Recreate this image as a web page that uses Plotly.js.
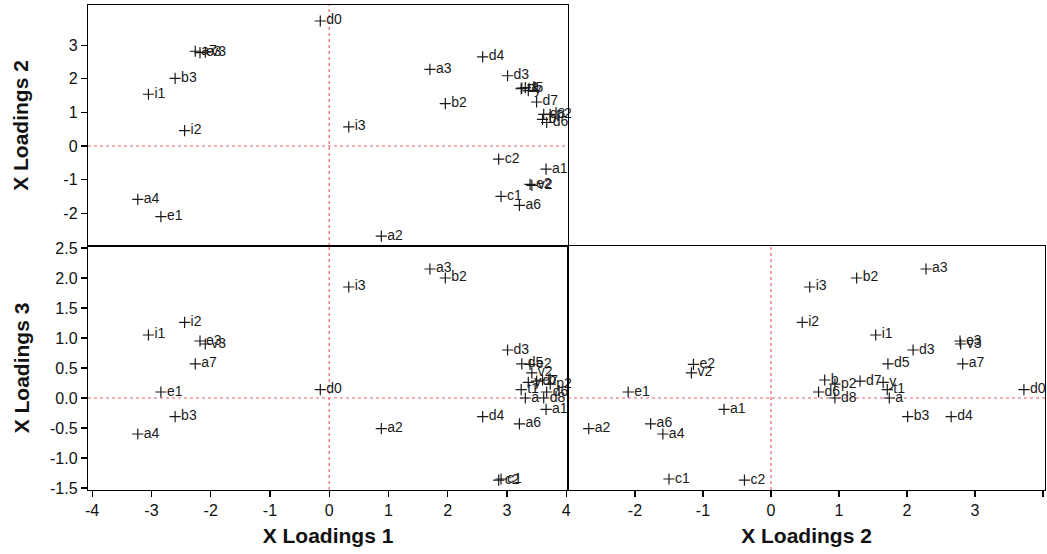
<!DOCTYPE html>
<html>
<head>
<meta charset="utf-8">
<script src="https://cdn.plot.ly/plotly-3.0.1.min.js"></script>
<style>
  html, body { margin: 0; padding: 0; background: #ffffff; }
  #chart { width: 1047px; height: 554px; }
</style>
</head>
<body>
<div id="chart"></div>
<script>
// Variable names and their loadings on the three factors
const variables = ["d0", "a7", "e3", "v3", "b3", "i1", "i2", "a4", "e1", "i3",
                   "a2", "c2", "a1", "e2", "v2", "c1", "a6", "a3", "d4", "d3",
                   "b2", "d7", "d5", "y", "t1", "a", "b", "p2", "d6", "d8"];
const loading1 = [-0.15, -2.26, -2.18, -2.09, -2.60, -3.05, -2.44, -3.23, -2.84, 0.33,
                  0.88, 2.86, 3.66, 3.39, 3.42, 2.90, 3.21, 1.70, 2.59, 3.01,
                  1.96, 3.50, 3.25, 3.36, 3.24, 3.31, 3.60, 3.73, 3.67, 3.62];
const loading2 = [3.72, 2.82, 2.78, 2.79, 2.01, 1.54, 0.46, -1.59, -2.10, 0.57,
                  -2.68, -0.39, -0.69, -1.14, -1.17, -1.50, -1.77, 2.28, 2.65, 2.09,
                  1.26, 1.31, 1.72, 1.65, 1.71, 1.74, 0.79, 0.94, 0.70, 0.94];
const loading3 = [0.14, 0.57, 0.95, 0.90, -0.31, 1.05, 1.26, -0.60, 0.10, 1.85,
                  -0.51, -1.37, -0.19, 0.56, 0.42, -1.35, -0.43, 2.15, -0.31, 0.80,
                  2.00, 0.28, 0.57, 0.26, 0.14, 0.00, 0.30, 0.23, 0.10, 0.00];

const xTicks1 = [-4, -3, -2, -1, 0, 1, 2, 3, 4];
const xTicks2 = [-3, -2, -1, 0, 1, 2, 3, 4];
const xLabels2 = ["", "-2", "-1", "0", "1", "2", "3", ""];
const yTicks2 = [-2, -1, 0, 1, 2, 3];
const yTicks3 = [-1.5, -1.0, -0.5, 0.0, 0.5, 1.0, 1.5, 2.0, 2.5];

const W = 1047, H = 554;
const px = v => v / W;
const py = v => 1 - v / H;

const FONT = "Liberation Sans, Arial, sans-serif";
const refColor = "#f0606e";

function pointTrace(xs, ys, xa, ya) {
  return {
    type: "scatter",
    mode: "markers+text",
    x: xs, y: ys,
    xaxis: xa, yaxis: ya,
    text: variables,
    textposition: "middle right",
    textfont: { family: FONT, size: 14, color: "#1a1a1a" },
    marker: { symbol: "cross-thin", size: 8, line: { width: 1.2, color: "#1a1a1a" }, color: "#1a1a1a" },
    cliponaxis: false,
    hoverinfo: "text",
    showlegend: false
  };
}

const data = [
  pointTrace(loading1, loading2, "x", "y"),
  pointTrace(loading1, loading3, "x2", "y2"),
  pointTrace(loading2, loading3, "x3", "y3")
];

const axisBase = {
  showgrid: false, zeroline: false,
  showline: true, linecolor: "#000000", linewidth: 1.2, mirror: true,
  tickfont: { family: FONT, size: 16, color: "#111111" },
  tickcolor: "#000000", ticklen: 6, tickwidth: 1.2,
  automargin: false, fixedrange: true
};
const titleFont = { family: FONT, size: 21, color: "#111111", weight: "bold" };

// reference lines through the origin of each panel
function refLines(xa, ya) {
  return [
    { type: "line", xref: xa, yref: ya + " domain", x0: 0, x1: 0, y0: 0, y1: 1,
      line: { color: refColor, width: 1.2, dash: "dot" }, layer: "below" },
    { type: "line", xref: xa + " domain", yref: ya, x0: 0, x1: 1, y0: 0, y1: 0,
      line: { color: refColor, width: 1.2, dash: "dot" }, layer: "below" }
  ];
}

const layout = {
  width: W, height: H,
  margin: { l: 0, r: 0, t: 0, b: 0 },
  paper_bgcolor: "#ffffff", plot_bgcolor: "#ffffff",
  font: { family: FONT },
  showlegend: false,
  xaxis: Object.assign({}, axisBase, {
    domain: [px(88), px(568)], range: [-4.07, 4.03], anchor: "y",
    showticklabels: false, ticks: ""
  }),
  yaxis: Object.assign({}, axisBase, {
    domain: [py(246), py(5)], range: [-2.976, 4.196], anchor: "x",
    tickvals: yTicks2, ticktext: yTicks2.map(String), ticks: "outside",
    title: { text: "X Loadings 2", font: titleFont, standoff: 29 }
  }),
  xaxis2: Object.assign({}, axisBase, {
    domain: [px(88), px(568)], range: [-4.07, 4.03], anchor: "y2",
    tickvals: xTicks1, ticktext: xTicks1.map(String), ticks: "outside",
    title: { text: "X Loadings 1", font: titleFont, standoff: 9 }
  }),
  yaxis2: Object.assign({}, axisBase, {
    domain: [py(490), py(246)], range: [-1.533, 2.533], anchor: "x2",
    tickvals: yTicks3, ticktext: yTicks3.map(v => v.toFixed(1)), ticks: "outside",
    title: { text: "X Loadings 3", font: titleFont, standoff: 14 }
  }),
  xaxis3: Object.assign({}, axisBase, {
    domain: [px(568), px(1045)], range: [-2.985, 4.03], anchor: "y3",
    tickvals: xTicks2, ticktext: xLabels2, ticks: "outside",
    title: { text: "X Loadings 2", font: titleFont, standoff: 9 }
  }),
  yaxis3: Object.assign({}, axisBase, {
    domain: [py(490), py(246)], range: [-1.533, 2.533], anchor: "x3",
    showticklabels: false, ticks: ""
  }),
  shapes: [].concat(refLines("x", "y"), refLines("x2", "y2"), refLines("x3", "y3"))
};

Plotly.newPlot("chart", data, layout, { displayModeBar: false, staticPlot: true });
</script>
</body>
</html>
